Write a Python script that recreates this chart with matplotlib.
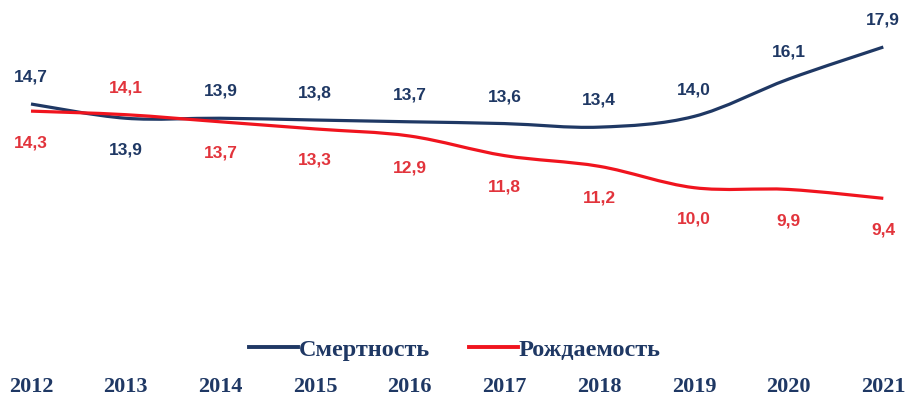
import matplotlib
matplotlib.use('Agg')
import matplotlib.pyplot as plt
import numpy as np
from matplotlib.path import Path
from matplotlib.patches import PathPatch
from matplotlib.lines import Line2D

# Данные: смертность и рождаемость, на 1000 человек
years = [2012, 2013, 2014, 2015, 2016, 2017, 2018, 2019, 2020, 2021]
smertnost = [14.7, 13.9, 13.9, 13.8, 13.7, 13.6, 13.4, 14.0, 16.1, 17.9]
rozhdaemost = [14.3, 14.1, 13.7, 13.3, 12.9, 11.8, 11.2, 10.0, 9.9, 9.4]

BLUE = '#1f3864'
RED = '#f0141e'
RED_TXT = '#e2343c'


def smooth_path(x, y):
    """Сглаженная линия (кривые Безье по точкам, как в Excel)"""
    pts = np.column_stack([x, y]).astype(float)
    n = len(pts)
    verts = [pts[0]]
    codes = [Path.MOVETO]
    for i in range(n - 1):
        p0 = pts[max(i - 1, 0)]
        p1 = pts[i]
        p2 = pts[i + 1]
        p3 = pts[min(i + 2, n - 1)]
        c1 = p1 + (p2 - p0) / 6
        c2 = p2 - (p3 - p1) / 6
        verts += [c1, c2, p2]
        codes += [Path.CURVE4] * 3
    return Path(verts, codes)


fig = plt.figure(figsize=(9.06, 4.06), dpi=100)
ax = fig.add_axes([0, 36 / 406, 1, 1 - 36 / 406])

ax.add_patch(PathPatch(smooth_path(years, smertnost), fill=False,
                       edgecolor=BLUE, lw=2.3, capstyle='butt'))
ax.add_patch(PathPatch(smooth_path(years, rozhdaemost), fill=False,
                       edgecolor=RED, lw=2.3, capstyle='butt'))

ax.set_xlim(2012 - 31 / 94.7, 2012 + 875 / 94.7)
ax.set_ylim(14.7 - 265 / 17.8, 14.7 + 105 / 17.8)

# Подписи значений: смертность сверху, рождаемость снизу (кроме 2013)
lbl_font = dict(family='Liberation Sans', fontweight='bold', fontsize=12.5)
for i, yr in enumerate(years):
    up, down = 20, -22
    if yr == 2013:
        up, down = down, up
    ax.annotate(f'{smertnost[i]:.1f}'.replace('.', ','), (yr, smertnost[i]),
                xytext=(0, up), textcoords='offset points',
                ha='center', va='center', color=BLUE, **lbl_font)
    ax.annotate(f'{rozhdaemost[i]:.1f}'.replace('.', ','), (yr, rozhdaemost[i]),
                xytext=(0, down), textcoords='offset points',
                ha='center', va='center', color=RED_TXT, **lbl_font)

ax.set_xticks(years)
ax.set_xticklabels([str(y) for y in years], family='Liberation Serif',
                   fontweight='bold', fontsize=16, color=BLUE)
ax.tick_params(axis='x', length=0, pad=5)
ax.set_yticks([])
for s in ax.spines.values():
    s.set_visible(False)

handles = [Line2D([], [], color=BLUE, lw=2.8),
           Line2D([], [], color=RED, lw=2.8)]
leg = fig.legend(handles, ['Смертность', 'Рождаемость'], loc='center',
                 bbox_to_anchor=(455 / 906, 1 - 350 / 406), ncol=2,
                 frameon=False, handlelength=2.0, handletextpad=0.05,
                 columnspacing=1.6,
                 prop=dict(family='Liberation Serif', weight='bold', size=17.5))
for t in leg.get_texts():
    t.set_color(BLUE)

fig.savefig('out.png', dpi=100)
